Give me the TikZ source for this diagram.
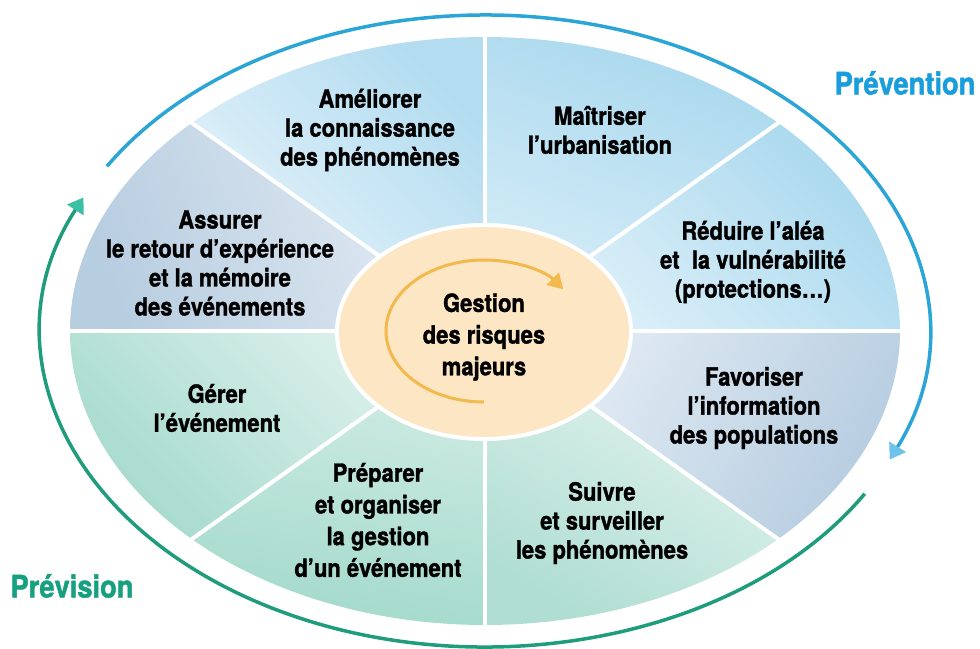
\documentclass[tikz,border=0pt]{standalone}
\usepackage{fontspec}
\setmainfont{TeX Gyre Heros}[FakeStretch=0.88,BoldFeatures={FakeBold=1.4}]
\usetikzlibrary{arrows.meta,shapes.geometric}
\definecolor{rdOut}{HTML}{A9D8EE}
\definecolor{rdIn}{HTML}{E2F2FA}
\definecolor{mtOut}{HTML}{A9D8EE}
\definecolor{mtIn}{HTML}{D9EEF8}
\definecolor{amOut}{HTML}{B3DCF0}
\definecolor{amIn}{HTML}{E9F5FB}
\definecolor{asOut}{HTML}{B7CDE0}
\definecolor{asIn}{HTML}{E6EDF5}
\definecolor{geOut}{HTML}{A5DACC}
\definecolor{geIn}{HTML}{E2F3EF}
\definecolor{prOut}{HTML}{A3DACB}
\definecolor{prIn}{HTML}{D6EEE7}
\definecolor{suOut}{HTML}{B0DED2}
\definecolor{suIn}{HTML}{E6F5F1}
\definecolor{faOut}{HTML}{B6CDE0}
\definecolor{faIn}{HTML}{E8EFF7}
\definecolor{core}{HTML}{FCE6C4}
\definecolor{swirlcol}{HTML}{F3B94D}
\definecolor{prevcol}{HTML}{2AA5D6}
\definecolor{prevhead}{HTML}{6FC2EA}
\definecolor{previcol}{HTML}{1E9C7C}
\definecolor{previhead}{HTML}{3CC0A5}
\definecolor{prevtxt}{HTML}{1A9DDB}
\definecolor{previtxt}{HTML}{17A07F}
\begin{document}
\begin{tikzpicture}[x=1pt,y=1pt,line join=round,
  txt/.style={align=center,inner sep=0pt,font=\bfseries\fontsize{25}{29}\selectfont},
  txtwide/.style={align=center,inner sep=0pt,font=\bfseries\fontsize{25}{31.7}\selectfont},
  phase/.style={inner sep=0pt,font=\bfseries\fontsize{31}{36}\selectfont},
  cyclearc/.style={line width=3.5pt},
  headcol/.style={-{Triangle[length=15pt,width=19pt,color=#1]}}]
\useasboundingbox (-485,-317) rectangle (495,331);
\foreach \a/\co/\ci/\sa in {0/rdOut/rdIn/-45,45/mtOut/mtIn/-20,90/amOut/amIn/-45,135/asOut/asIn/110,
  180/geOut/geIn/135,225/prOut/prIn/170,270/suOut/suIn/150,315/faOut/faIn/-120}
  \shade[top color=\co,bottom color=\ci,shading angle=\sa] (0,0) -- (\a:415 and 294)
    arc[start angle=\a,delta angle=45,x radius=415,y radius=294] -- cycle;
\foreach \a in {0,45,...,315}
  \draw[white,line width=4pt] (0,0) -- (\a:417 and 296);
\node[ellipse,draw=white,line width=4pt,fill=core,minimum width=294pt,minimum height=214pt] (core) at (-1,-1) {};
\node[txtwide] (gestion) at (-1,-6) {Gestion\\des risques\\majeurs};
\draw[swirlcol,line width=3pt,-{Triangle[length=15pt,width=17pt]}] (core.center) ++(0,-70)
  arc[start angle=270,end angle=36,x radius=98,y radius=71];
\draw[cyclearc,prevcol,headcol=prevhead] (148.6:443 and 316)
  arc[start angle=148.6,end angle=-24,x radius=443,y radius=316];
\draw[cyclearc,previcol,headcol=previhead] (-31:443 and 316)
  arc[start angle=-31,end angle=-205,x radius=443,y radius=316];
\node[txt] (ameliorer) at (-115,201) {Améliorer\\la connaissance\\des phénomènes};
\node[txt] (maitriser) at (115,201) {Maîtriser\\l’urbanisation};
\node[txt] (reduire) at (268,69) {Réduire l’aléa\\et\ \ la vulnérabilité\\(protections…)};
\node[txt] (favoriser) at (269,-77) {Favoriser\\l’information\\des populations};
\node[txt] (suivre) at (117,-192) {Suivre\\et surveiller\\les phénomènes};
\node[txtwide] (preparer) at (-107,-189) {Préparer\\et organiser\\la gestion\\d’un événement};
\node[txt] (gerer) at (-268,-77) {Gérer\\l’événement};
\node[txt] (assurer) at (-265,68) {Assurer\\le retour d’expérience\\et la mémoire\\des événements};
\node[phase,text=prevtxt] (prevention) at (420,248) {Prévention};
\node[phase,text=previtxt] (prevision) at (-413,-255) {Prévision};
\end{tikzpicture}
\end{document}
